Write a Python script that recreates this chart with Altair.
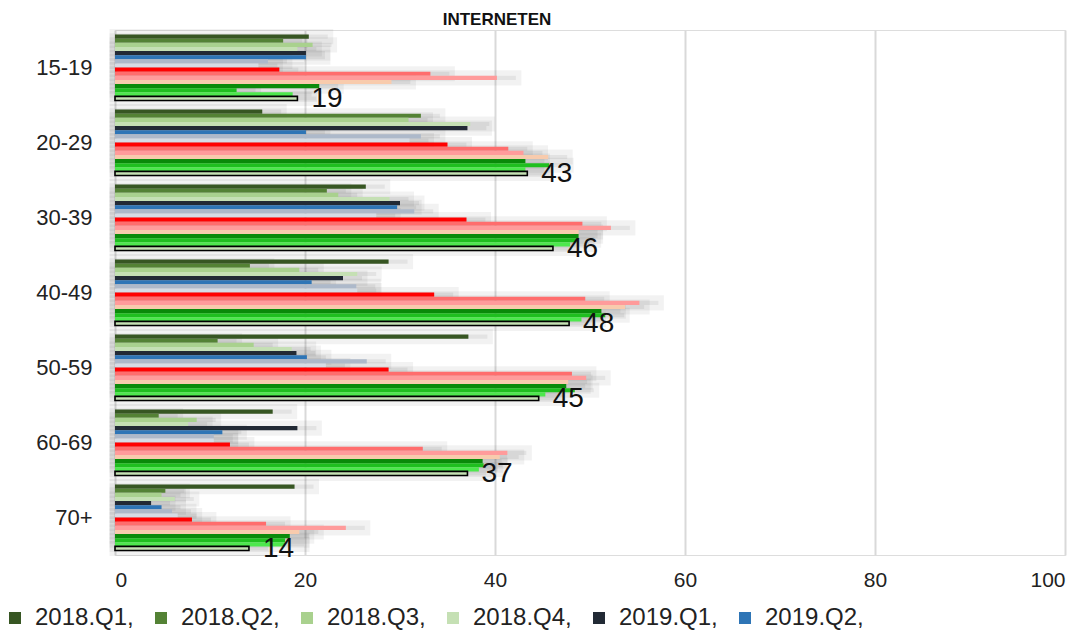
import altair as alt
import pandas as pd

ages = ["15-19", "20-29", "30-39", "40-49", "50-59", "60-69", "70+"]
series = ["2018.Q1", "2018.Q2", "2018.Q3", "2018.Q4",
          "2019.Q1", "2019.Q2", "2019.Q3", "2019.Q4",
          "2020.Q1", "2020.Q2", "2020.Q3", "2020.Q4",
          "2021.Q1", "2021.Q2", "2021.Q3", "2021.Q4"]

v_2018_q1 = [20.4, 15.5, 26.4, 28.8, 37.2, 16.6, 18.9]
v_2018_q2 = [17.7, 32.2, 22.3, 14.2, 10.8, 4.6, 5.3]
v_2018_q3 = [20.8, 30.9, 23.5, 19.4, 14.6, 8.6, 4.9]
v_2018_q4 = [19.2, 37.4, 28.9, 25.5, 18.6, 7.7, 6.3]
v_2019_q1 = [20.1, 37.1, 30.0, 24.0, 19.1, 19.2, 3.8]
v_2019_q2 = [20.1, 20.1, 29.7, 20.7, 20.2, 11.3, 4.9]
v_2019_q3 = [16.1, 32.2, 31.5, 25.4, 26.5, 10.4, 6.0]
v_2019_q4 = [15.1, 31.0, 27.5, 25.5, 22.2, 10.4, 6.6]
v_2020_q1 = [17.3, 35.0, 37.0, 33.6, 28.8, 12.1, 8.1]
v_2020_q2 = [33.2, 41.4, 49.2, 49.5, 48.1, 32.4, 15.9]
v_2020_q3 = [40.2, 43.0, 52.2, 55.2, 49.6, 41.3, 24.3]
v_2020_q4 = [29.1, 45.6, 48.8, 53.7, 47.7, 40.5, 19.4]
v_2021_q1 = [21.5, 43.2, 48.8, 51.2, 47.5, 38.7, 18.4]
v_2021_q2 = [12.8, 45.7, 48.6, 51.6, 48.4, 38.8, 17.9]
v_2021_q3 = [18.7, 43.2, 47.9, 49.1, 45.3, 38.3, 17.9]
v_2021_q4 = [19.2, 43.4, 46.1, 47.8, 44.6, 37.1, 14.1]

all_values = [v_2018_q1, v_2018_q2, v_2018_q3, v_2018_q4,
              v_2019_q1, v_2019_q2, v_2019_q3, v_2019_q4,
              v_2020_q1, v_2020_q2, v_2020_q3, v_2020_q4,
              v_2021_q1, v_2021_q2, v_2021_q3, v_2021_q4]

colors = ["#375623", "#548235", "#a9d18e", "#c5e0b4",
          "#222a35", "#2e75b6", "#adb9ca", "#d6dce5",
          "#ff0000", "#ff6d6d", "#ff9b9b", "#f8cbad",
          "#0a8a0a", "#1fbf1f", "#4de84d", "#c5e0b4"]

rows = []
for s, vals in zip(series, all_values):
    for a, v in zip(ages, vals):
        rows.append({"age": a, "series": s, "value": v})
df = pd.DataFrame(rows)

last = series[-1]
lab = df[df["series"] == last].copy()
lab["label"] = lab["value"].round().astype(int).astype(str)

FONT = "Liberation Sans"

y = alt.Y("age:N", sort=ages,
          scale=alt.Scale(paddingInner=0.12, paddingOuter=0.06),
          axis=alt.Axis(title=None, labelFontSize=22, labelColor="#222222",
                        labelPadding=23, ticks=False, domain=False,
                        labelFont=FONT, grid=False))
yoff = alt.YOffset("series:N", sort=series,
                   scale=alt.Scale(domain=series, paddingInner=0, paddingOuter=0))
x = alt.X("value:Q", scale=alt.Scale(domain=[0, 100]),
          axis=alt.Axis(values=[0, 20, 40, 60, 80, 100], title=None,
                        labelFontSize=21, labelFont=FONT, labelColor="#222222",
                        grid=True, gridColor="#d9d9d9", gridWidth=2,
                        ticks=False, domain=False, labelPadding=14))
color = alt.Color("series:N", sort=series,
                  scale=alt.Scale(domain=series, range=colors),
                  legend=alt.Legend(orient="none", legendX=-112, legendY=576,
                                    direction="horizontal", values=series[:6],
                                    title=None, symbolType="square",
                                    symbolSize=144, symbolStrokeWidth=0,
                                    labelFontSize=24, labelFont=FONT,
                                    labelColor="#222222",
                                    labelExpr="datum.label + ','",
                                    columnPadding=15, labelOffset=8))

# soft grey shadow under the bars
shadow = alt.Chart(df).transform_calculate(
    xs="datum.value + 2"
).mark_bar(color="#000000", fillOpacity=0.06, stroke="#000000",
           strokeOpacity=0.05, strokeWidth=11).encode(
    y=y, yOffset=yoff,
    x=alt.X("xs:Q", scale=alt.Scale(domain=[0, 100])),
)

bars = alt.Chart(df).mark_bar(stroke="black").encode(
    y=y, yOffset=yoff, x=x, color=color,
    strokeWidth=alt.condition(alt.datum.series == last, alt.value(1.6), alt.value(0)),
)

texts = alt.Chart(lab).mark_text(align="left", baseline="middle", dx=14, dy=1,
                                 fontSize=28, font=FONT, color="#111111").encode(
    y=y, yOffset=yoff, x=x, text="label:N"
)

chart = alt.layer(shadow, bars, texts).properties(
    width=950, height=525,
    title=alt.TitleParams("INTERNETEN", fontSize=17, fontWeight="bold", font=FONT,
                          anchor="middle", dx=-93, offset=-17, frame="group",
                          baseline="bottom", color="#111111"),
    autosize=alt.AutoSizeParams(type="none"),
    padding={"left": 107, "top": 22, "right": 15, "bottom": 76},
).configure_view(stroke=None).configure(background="white")

chart.save("out.html", embed_options={"renderer": "svg", "actions": False})
